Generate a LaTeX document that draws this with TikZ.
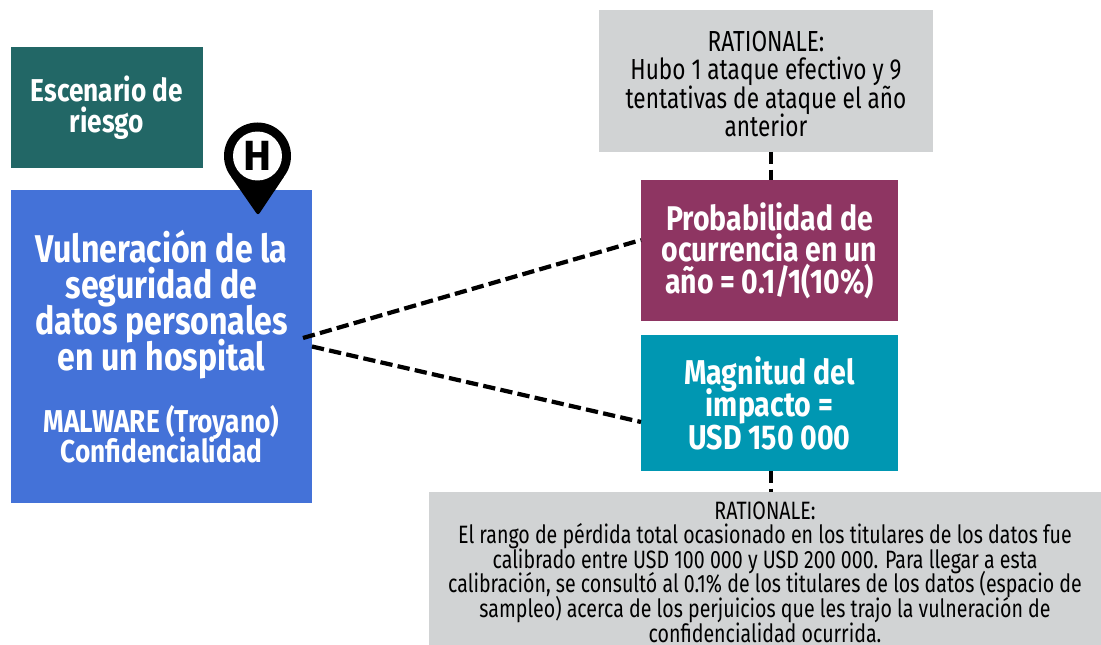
\documentclass[tikz,border=0pt]{standalone}
\usepackage{fontspec}
\usepackage{xcolor}
\setmainfont{Fira Sans}
\newfontfamily\thinfont[FakeStretch=0.78]{Fira Sans}
\newfontfamily\fatfont[FakeStretch=0.83]{Fira Sans}[BoldFont={Fira Sans Bold}]
\usetikzlibrary{positioning}
\lineskiplimit=-30pt
\definecolor{escenario}{HTML}{226766}
\definecolor{hospital}{HTML}{4472D8}
\definecolor{probab}{HTML}{8E3562}
\definecolor{magnit}{HTML}{0097B2}
\definecolor{rationale}{HTML}{D1D3D4}
\tikzstyle{box} = [inner sep=0pt,outer sep=0pt,align=center]
\tikzstyle{bigbox} = [box,text=white,font=\fatfont\bfseries\fontsize{22}{20.5}\selectfont]
\tikzstyle{greybox} = [box,fill=rationale,text=black]
\tikzstyle{link} = [line width=2.4pt,dash pattern=on 7pt off 3pt]

\begin{document}
\begin{tikzpicture}[x=0.02cm,y=-0.02cm]
	\useasboundingbox (0,0) rectangle (1101,645);
	\node[bigbox,fill=escenario,minimum width=3.84cm,minimum height=2.42cm,font=\fatfont\bfseries\fontsize{18}{17.5}\selectfont] (escenario) at (107,107.5) {Escenario de\\riesgo};
	\node[bigbox,fill=hospital,minimum width=6.02cm,minimum height=6.26cm] (hospital) at (161.5,346.5) {Vulneración de la\\seguridad de\\datos personales\\en un hospital\\[15pt]{\fontsize{18}{17.5}\selectfont MALWARE (Troyano)}\\[-3.5pt]{\fontsize{18}{17.5}\selectfont Confidencialidad}};
	\node[bigbox,fill=probab,minimum width=5.14cm,minimum height=2.82cm,font=\fatfont\bfseries\fontsize{19.5}{18}\selectfont] (probab) at (769.5,250.5) {Probabilidad de\\ocurrencia en un\\año = 0.1/1(10\%)};
	\node[bigbox,fill=magnit,minimum width=5.14cm,minimum height=2.72cm,font=\fatfont\bfseries\fontsize{19.6}{18.5}\selectfont] (magnit) at (769.5,403) {Magnitud del\\impacto =\\USD 150 000};
	\node[greybox,minimum width=6.68cm,minimum height=2.84cm,font=\thinfont\fontsize{16.5}{16}\selectfont] (ratiotop) at (766,81) {\rule{0pt}{15pt}RATIONALE:\\Hubo 1 ataque efectivo y 9\\tentativas de ataque el año\\anterior};
	\node[greybox,minimum width=13.44cm,minimum height=3.06cm,font=\thinfont\fontsize{14.3}{14}\selectfont] (ratiobot) at (765,568.5) {\rule{0pt}{14pt}RATIONALE:\\El rango de pérdida total ocasionado en los titulares de los datos fue\\calibrado entre USD 100 000 y USD 200 000. Para llegar a esta\\calibración, se consultó al 0.1\% de los titulares de los datos (espacio de\\sampleo) acerca de los perjuicios que les trajo la vulneración de\\confidencialidad ocurrida.};
	\coordinate (hosptop) at (303,338);
	\coordinate (probin) at (641,240);
	\coordinate (magin) at (641,422);
	\coordinate (ratiotopout) at (771,152);
	\coordinate (probtop) at (771,180);
	\coordinate (magbot) at (771,471);
	\coordinate (ratiobotin) at (771,492);
	\draw[link] (hosptop) -- (probin);
	\draw[link] (hospital.east) -- (magin);
	\draw[link] (ratiotopout) -- (probtop);
	\draw[link] (magbot) -- (ratiobotin);
	% pin
	\fill[black] (257.5,156) circle (33.5);
	\fill[black,rounded corners=1.5pt] (229.8,174.9) -- (258,215.5) -- (285.2,174.9) -- cycle;
	\node[circle,fill=white,minimum size=0.98cm,inner sep=0pt,font=\fontspec{Fira Sans Bold}\fontsize{24}{24}\selectfont] (pin) at (257.5,156) {H};
\end{tikzpicture}
\end{document}
